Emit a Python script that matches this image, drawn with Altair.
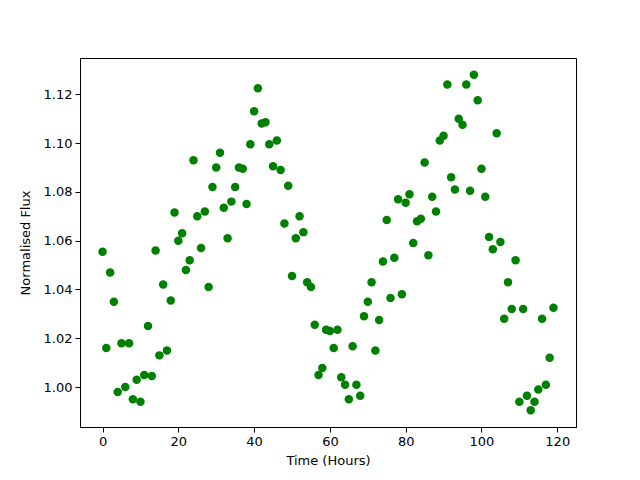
import altair as alt
import pandas as pd

time_hours = list(range(120))
flux = [
    1.0555, 1.016, 1.047, 1.035, 0.998, 1.018, 1.000, 1.018, 0.995, 1.003,
    0.994, 1.005, 1.025, 1.0045, 1.056, 1.013, 1.042, 1.015, 1.0355, 1.0715,
    1.060, 1.063, 1.048, 1.052, 1.093, 1.070, 1.057, 1.072, 1.041, 1.082,
    1.090, 1.096, 1.0735, 1.061, 1.076, 1.082, 1.090, 1.0895, 1.075, 1.0995,
    1.113, 1.1225, 1.108, 1.1085, 1.0995, 1.0905, 1.101, 1.089, 1.067, 1.0825,
    1.0455, 1.061, 1.070, 1.0635, 1.043, 1.041, 1.0255, 1.005, 1.0078, 1.0235,
    1.023, 1.016, 1.0235, 1.004, 1.001, 0.995, 1.0167, 1.001, 0.9965, 1.029,
    1.035, 1.043, 1.015, 1.0275, 1.0515, 1.0685, 1.0365, 1.053, 1.077, 1.038,
    1.0755, 1.079, 1.059, 1.068, 1.069, 1.092, 1.054, 1.078, 1.072, 1.101,
    1.103, 1.124, 1.086, 1.081, 1.110, 1.1075, 1.124, 1.0805, 1.128, 1.1175,
    1.0895, 1.078, 1.0615, 1.0565, 1.104, 1.0595, 1.028, 1.043, 1.032, 1.052,
    0.994, 1.032, 0.9965, 0.9905, 0.994, 0.999, 1.028, 1.001, 1.012, 1.0325,
]
x_ticks = [0, 20, 40, 60, 80, 100, 120]
y_ticks = [1.00, 1.02, 1.04, 1.06, 1.08, 1.10, 1.12]

df = pd.DataFrame({"t": time_hours, "f": flux})

axis_common = dict(
    domainColor="black", tickColor="black", labelColor="black", titleColor="black",
    grid=False, labelFont="DejaVu Sans", titleFont="DejaVu Sans",
    labelFontSize=13, titleFontSize=13, titleFontWeight="normal",
    tickSize=5, labelPadding=3, domainWidth=1,
)

chart = alt.Chart(df).mark_circle(size=72, color="#008000", opacity=1).encode(
    x=alt.X("t:Q", scale=alt.Scale(domain=[-5.95, 124.95], nice=False, zero=False),
            axis=alt.Axis(values=x_ticks, title="Time (Hours)", titlePadding=6, **axis_common)),
    y=alt.Y("f:Q", scale=alt.Scale(domain=[0.98365, 1.13485], nice=False, zero=False),
            axis=alt.Axis(values=y_ticks, format=".2f", title="Normalised Flux", titlePadding=11, **axis_common)),
).properties(
    width=496, height=369,
    autosize=alt.AutoSizeParams(type="none"),
    padding={"left": 72, "top": 50, "right": 56, "bottom": 53},
).configure_view(stroke="black", strokeWidth=1)

chart.save("out.html", embed_options={"renderer": "svg", "actions": False})
